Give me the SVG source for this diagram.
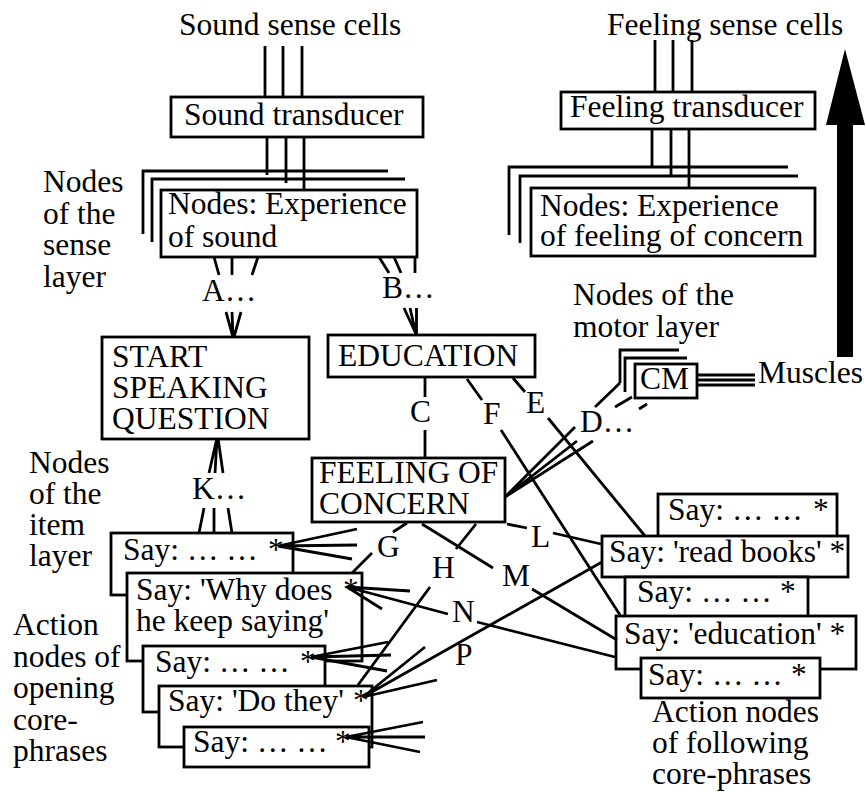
<svg xmlns="http://www.w3.org/2000/svg" width="866" height="792" viewBox="0 0 866 792">
<style>
text{font-family:"Liberation Serif","Times New Roman",serif;font-size:31.5px;fill:#000}
.b{fill:#fff;stroke:#000;stroke-width:2.8}
.l{fill:none;stroke:#000;stroke-width:2.8}
</style>
<rect width="866" height="792" fill="#fff"/>
<g id="labels">
<text x="179" y="35">Sound sense cells</text>
<text x="607" y="35">Feeling sense cells</text>
<text x="43" y="192">Nodes</text><text x="43" y="223.5">of the</text><text x="43" y="255">sense</text><text x="43" y="286.5">layer</text>
<text x="573" y="305">Nodes of the</text><text x="573" y="337">motor layer</text>
<text x="758" y="383">Muscles</text>
<text x="29" y="473">Nodes</text><text x="29" y="504">of the</text><text x="29" y="535">item</text><text x="29" y="566">layer</text>
<text x="13" y="635">Action</text><text x="13" y="666.5">nodes of</text><text x="13" y="698">opening</text><text x="13" y="729.5">core-</text><text x="13" y="761">phrases</text>
<text x="652" y="722">Action nodes</text><text x="652" y="753">of following</text><text x="652" y="784">core-phrases</text>
</g>
<g id="arrow">
<rect x="837" y="124" width="16" height="233" fill="#000"/>
<polygon points="845,49 826,125 865,125" fill="#000"/>
</g>
<g id="sound-transducer">
<rect class="b" x="171" y="97" width="252" height="40"/>
<text x="184" y="125">Sound transducer</text>
</g>
<g id="sound-nodes">
<path class="l" d="M143 234V171H388M152 242V179H405"/>
<rect class="b" x="161" y="190" width="256" height="67"/>
<text x="168" y="214">Nodes: Experience</text>
<text x="168" y="247">of sound</text>
</g>
<g id="feeling-transducer">
<rect class="b" x="561" y="92" width="254" height="37"/>
<text x="570" y="117">Feeling transducer</text>
</g>
<g id="feeling-nodes">
<path class="l" d="M509 235V167H788M520 243V176H798"/>
<rect class="b" x="531" y="188" width="284" height="68"/>
<text x="540" y="216">Nodes: Experience</text>
<text x="540" y="246">of feeling of concern</text>
</g>
<g id="motor-cm">
<path class="l" d="M620 383V350H679M625 392V358H687"/>
<rect class="b" x="635" y="364" width="62" height="34"/>
<text x="640" y="389">CM</text>
</g>
<g id="start-speaking-question">
<rect class="b" x="102" y="337" width="207" height="102"/>
<text x="112" y="367">START</text><text x="112" y="398">SPEAKING</text><text x="112" y="429">QUESTION</text>
</g>
<g id="education">
<rect class="b" x="328" y="335" width="207" height="42"/>
<text x="338" y="366">EDUCATION</text>
</g>
<g id="feeling-of-concern">
<rect class="b" x="312" y="458" width="193" height="64"/>
<text x="319" y="483">FEELING OF</text><text x="319" y="514">CONCERN</text>
</g>
<g id="say-open-1">
<rect class="b" x="111" y="533" width="182" height="62"/>
<text x="123" y="560">Say: … …<tspan x="268">*</tspan></text>
</g>
<g id="say-why-does">
<rect class="b" x="127" y="573" width="235" height="88"/>
<text x="136" y="600">Say: 'Why does<tspan x="343">*</tspan></text>
<text x="136" y="631">he keep saying'</text>
</g>
<g id="say-open-3">
<rect class="b" x="143" y="646" width="182" height="66"/>
<text x="155" y="672">Say: … …<tspan x="300">*</tspan></text>
</g>
<g id="say-do-they">
<rect class="b" x="159" y="686" width="213" height="61"/>
<text x="168" y="711">Say: 'Do they'<tspan x="353">*</tspan></text>
</g>
<g id="say-open-5">
<rect class="b" x="184" y="727" width="185" height="40"/>
<text x="193" y="752">Say: … …<tspan x="335">*</tspan></text>
</g>
<g id="say-follow-1">
<rect class="b" x="658" y="494" width="179" height="56"/>
<text x="668" y="520">Say: … …<tspan x="813">*</tspan></text>
</g>
<g id="say-read-books">
<rect class="b" x="602" y="536" width="246" height="41"/>
<text x="609" y="562">Say: 'read books' *</text>
</g>
<g id="say-follow-3">
<rect class="b" x="625" y="577" width="183" height="53"/>
<text x="637" y="602">Say: … …<tspan x="780">*</tspan></text>
</g>
<g id="say-education">
<rect class="b" x="616" y="616" width="240" height="53"/>
<text x="624" y="644">Say: 'education' *</text>
</g>
<g id="say-follow-5">
<rect class="b" x="641" y="658" width="179" height="40"/>
<text x="648" y="685">Say: … …<tspan x="791">*</tspan></text>
</g>
<g id="connectors">
<path class="l" d="M265 46V97M283 46V97M302 46V97M267 137V175M286 137V183M304 137V190"/>
<path class="l" d="M655 40V92M673 40V92M692 40V92M652 129V167M671 129V176M689 129V188"/>
<path class="l" d="M697 375H755M697 380H755M697 385H755"/>
<path class="l" d="M214 257L219 275M232 257V275M258 257L252 275M226 312L233 337M232 312L233 337M241 312L234 337"/>
<path class="l" d="M379 257L389 273M394 257L401 273M415 257V273M404 308L416 334M410 308L416 334M416.5 308V334"/>
<path class="l" d="M209 473L217 438M215 473L217 438M223 473L218 438M204 508L199 533M214 508V533M228 508L232 533"/>
<path class="l" d="M425 377V397M425 430V458"/>
<path class="l" d="M467 379L482 400M501 430L620 615"/>
<path class="l" d="M513 378L525 392M548 418L645 536"/>
<path class="l" d="M620 383L595 407M632 397L615 407M647 404L639 409"/>
<path class="l" d="M575 427L505 497M577 441L505 497M593 441L505 497"/>
<path class="l" d="M507 524L527 528M553 533L601 544"/>
<path class="l" d="M407 523L393 532M372 553L352 573"/>
<path class="l" d="M476 524L456 549M430 587L358 685"/>
<path class="l" d="M422 524L493 568M532 589L617 640"/>
<path class="l" d="M347 587L448 614M477 622L615 657M347 587L410 591M347 587L382 609"/>
<path class="l" d="M602 562L363 697M363 697L425 647M363 697L437 680"/>
<path class="l" d="M278 546L357 529M278 546L357 545M278 546L352 559"/>
<path class="l" d="M311 657L388 642M311 657L391 655M311 657L387 671"/>
<path class="l" d="M346 737L423 722M346 737L425 737M346 737L420 752"/>
</g>
<g id="connector-labels">
<text x="202" y="301">A…</text>
<text x="382" y="298">B…</text>
<text x="410" y="422">C</text>
<text x="580" y="432">D…</text>
<text x="526" y="413">E</text>
<text x="483" y="424">F</text>
<text x="377" y="557">G</text>
<text x="432" y="578">H</text>
<text x="192" y="499">K…</text>
<text x="531" y="547">L</text>
<text x="502" y="586">M</text>
<text x="452" y="622">N</text>
<text x="455" y="665">P</text>
</g>
</svg>
